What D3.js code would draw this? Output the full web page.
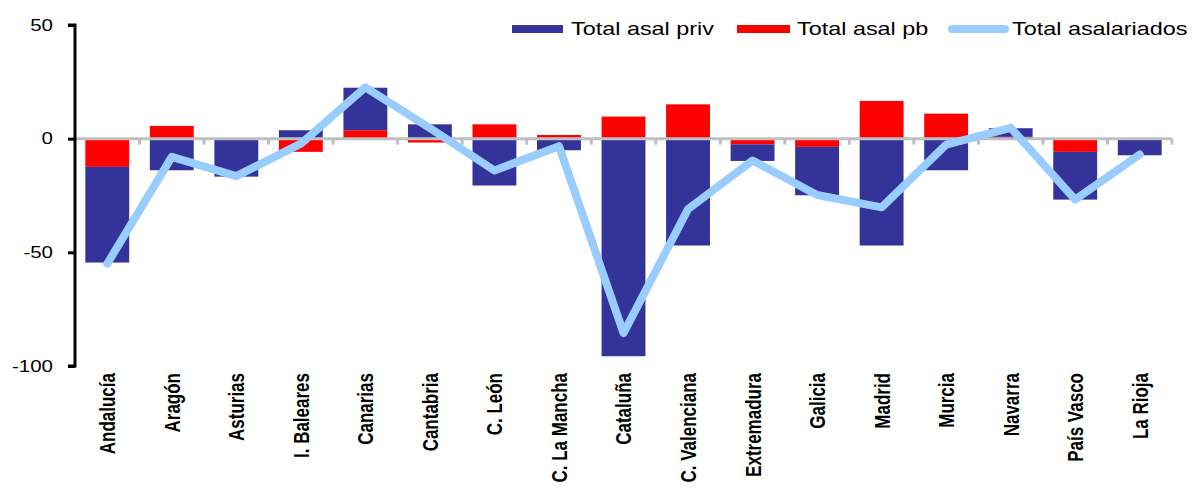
<!DOCTYPE html>
<html>
<head>
<meta charset="utf-8">
<script src="https://cdn.jsdelivr.net/npm/d3@7"></script>
<style>
	body { margin: 0; background: #fff; }
	svg { display: block; font-family: "Liberation Sans", Arial, sans-serif; }
</style>
</head>
<body>
<div id="chart"></div>
<script>
// regiones
const regions = ["Andalucía", "Aragón", "Asturias", "I. Baleares", "Canarias", "Cantabria", "C. León",
	"C. La Mancha", "Cataluña", "C. Valenciana", "Extremadura", "Galicia", "Madrid", "Murcia",
	"Navarra", "País Vasco", "La Rioja"];
const privValues = [-42.1, -13.9, -16.1, 3.7, 18.7, 6.3, -20.6, -5.1, -95.7, -47.0, -7.3, -21.3, -47.0, -13.9, 3.8, -21.0, -7.0];
const pbValues = [-12.4, 5.6, -0.6, -5.8, 3.7, -1.7, 6.3, 1.6, 9.7, 15.1, -2.5, -3.6, 16.6, 11.0, 0.8, -5.8, -0.3];
const totalValues = [-55.0, -8.0, -16.5, -2.2, 22.6, 4.6, -14.0, -3.3, -85.5, -31.0, -9.6, -24.8, -30.2, -2.6, 4.8, -26.8, -7.0];
const yTicks = [50, 0, -50, -100];
const seriesNames = ["Total asal priv", "Total asal pb", "Total asalariados"];

drawchart()

function drawchart() {
	const width = 1195, height = 492;
	const plot = { left: 75, right: 1172, top: 25, bottom: 366 };
	const sx = 1.3; // el original esta estirado en horizontal

	const svg = d3.select("#chart")
		.append("svg")
		.attr("width", width)
		.attr("height", height);

	const data = regions.map((r, i) => ({ name: r, priv: privValues[i], pb: pbValues[i], total: totalValues[i] }));

	const x = d3.scaleBand()
		.domain(regions)
		.range([plot.left, plot.right])
		.paddingInner(0.32)
		.paddingOuter(0.16);

	const y = d3.scaleLinear()
		.domain([-100, 50])
		.range([plot.bottom, plot.top]);

	const color = { priv: "#333399", pb: "#FF0000" };

	// pb se apila primero
	const stack = d3.stack()
		.keys(["pb", "priv"])
		.offset(d3.stackOffsetDiverging);
	const series = stack(data);

	svg.append("g")
		.selectAll("g")
		.data(series)
		.join("g")
		.attr("fill", d => color[d.key])
		.selectAll("rect")
		.data(d => d)
		.join("rect")
		.attr("x", d => x(d.data.name))
		.attr("y", d => y(Math.max(d[0], d[1])))
		.attr("width", x.bandwidth())
		.attr("height", d => Math.abs(y(d[0]) - y(d[1])));

	// linea del cero con marcas de categoria
	const zero = svg.append("g").attr("class", "zero");
	zero.append("line")
		.attr("x1", plot.left)
		.attr("x2", plot.right)
		.attr("y1", y(0))
		.attr("y2", y(0))
		.attr("stroke", "#BFBFBF")
		.attr("stroke-width", 3);
	zero.selectAll(".tk")
		.data(d3.range(1, regions.length + 1))
		.join("line")
		.attr("class", "tk")
		.attr("x1", i => plot.left + i * (plot.right - plot.left) / regions.length)
		.attr("x2", i => plot.left + i * (plot.right - plot.left) / regions.length)
		.attr("y1", y(0))
		.attr("y2", y(0) + 6)
		.attr("stroke", "#BFBFBF")
		.attr("stroke-width", 3);

	// linea total
	const line = d3.line()
		.x(d => x(d.name) + x.bandwidth() / 2)
		.y(d => y(d.total));
	svg.append("path")
		.datum(data)
		.attr("d", line)
		.attr("fill", "none")
		.attr("stroke", "#99CCFF")
		.attr("stroke-width", 8)
		.attr("stroke-linejoin", "round")
		.attr("stroke-linecap", "round");

	// eje y
	const yAxis = d3.axisLeft(y)
		.tickValues(yTicks)
		.tickSize(7)
		.tickFormat("");
	const gy = svg.append("g")
		.attr("class", "y-axis")
		.attr("transform", `translate(${plot.left},0)`)
		.call(yAxis);
	gy.select(".domain")
		.attr("d", `M-7,${plot.top}H0V${plot.bottom}H-7`)
		.attr("stroke", "#000")
		.attr("stroke-width", 3);
	gy.selectAll(".tick line")
		.attr("stroke", "#000")
		.attr("stroke-width", 3);
	svg.append("g")
		.selectAll("text")
		.data(yTicks)
		.join("text")
		.attr("transform", d => `translate(53,${y(d)}) scale(1.28,1)`)
		.attr("text-anchor", "end")
		.attr("dy", "0.35em")
		.style("font-size", "16px")
		.text(d => d);

	// etiquetas de categoria
	svg.append("g")
		.selectAll("text")
		.data(regions)
		.join("text")
		.attr("transform", d => `translate(${x(d) + x.bandwidth() / 2},${plot.bottom + 7}) scale(${sx},1) rotate(-90)`)
		.attr("text-anchor", "end")
		.attr("dy", "0.36em")
		.style("font-size", "17px")
		.style("font-weight", "bold")
		.text(d => d);

	// leyenda
	const lg = svg.append("g").attr("class", "legend");
	lg.append("rect").attr("x", 512).attr("y", 25).attr("width", 51).attr("height", 8).attr("fill", color.priv);
	lg.append("rect").attr("x", 737).attr("y", 25).attr("width", 53).attr("height", 8).attr("fill", color.pb);
	lg.append("line").attr("x1", 952).attr("x2", 1005).attr("y1", 29).attr("y2", 29)
		.attr("stroke", "#99CCFF").attr("stroke-width", 8).attr("stroke-linecap", "round");
	lg.selectAll("text")
		.data(seriesNames)
		.join("text")
		.attr("transform", (d, i) => `translate(${[571, 797, 1012][i]},35) scale(${sx},1)`)
		.style("font-size", "18px")
		.text(d => d);
}
</script>
</body>
</html>
